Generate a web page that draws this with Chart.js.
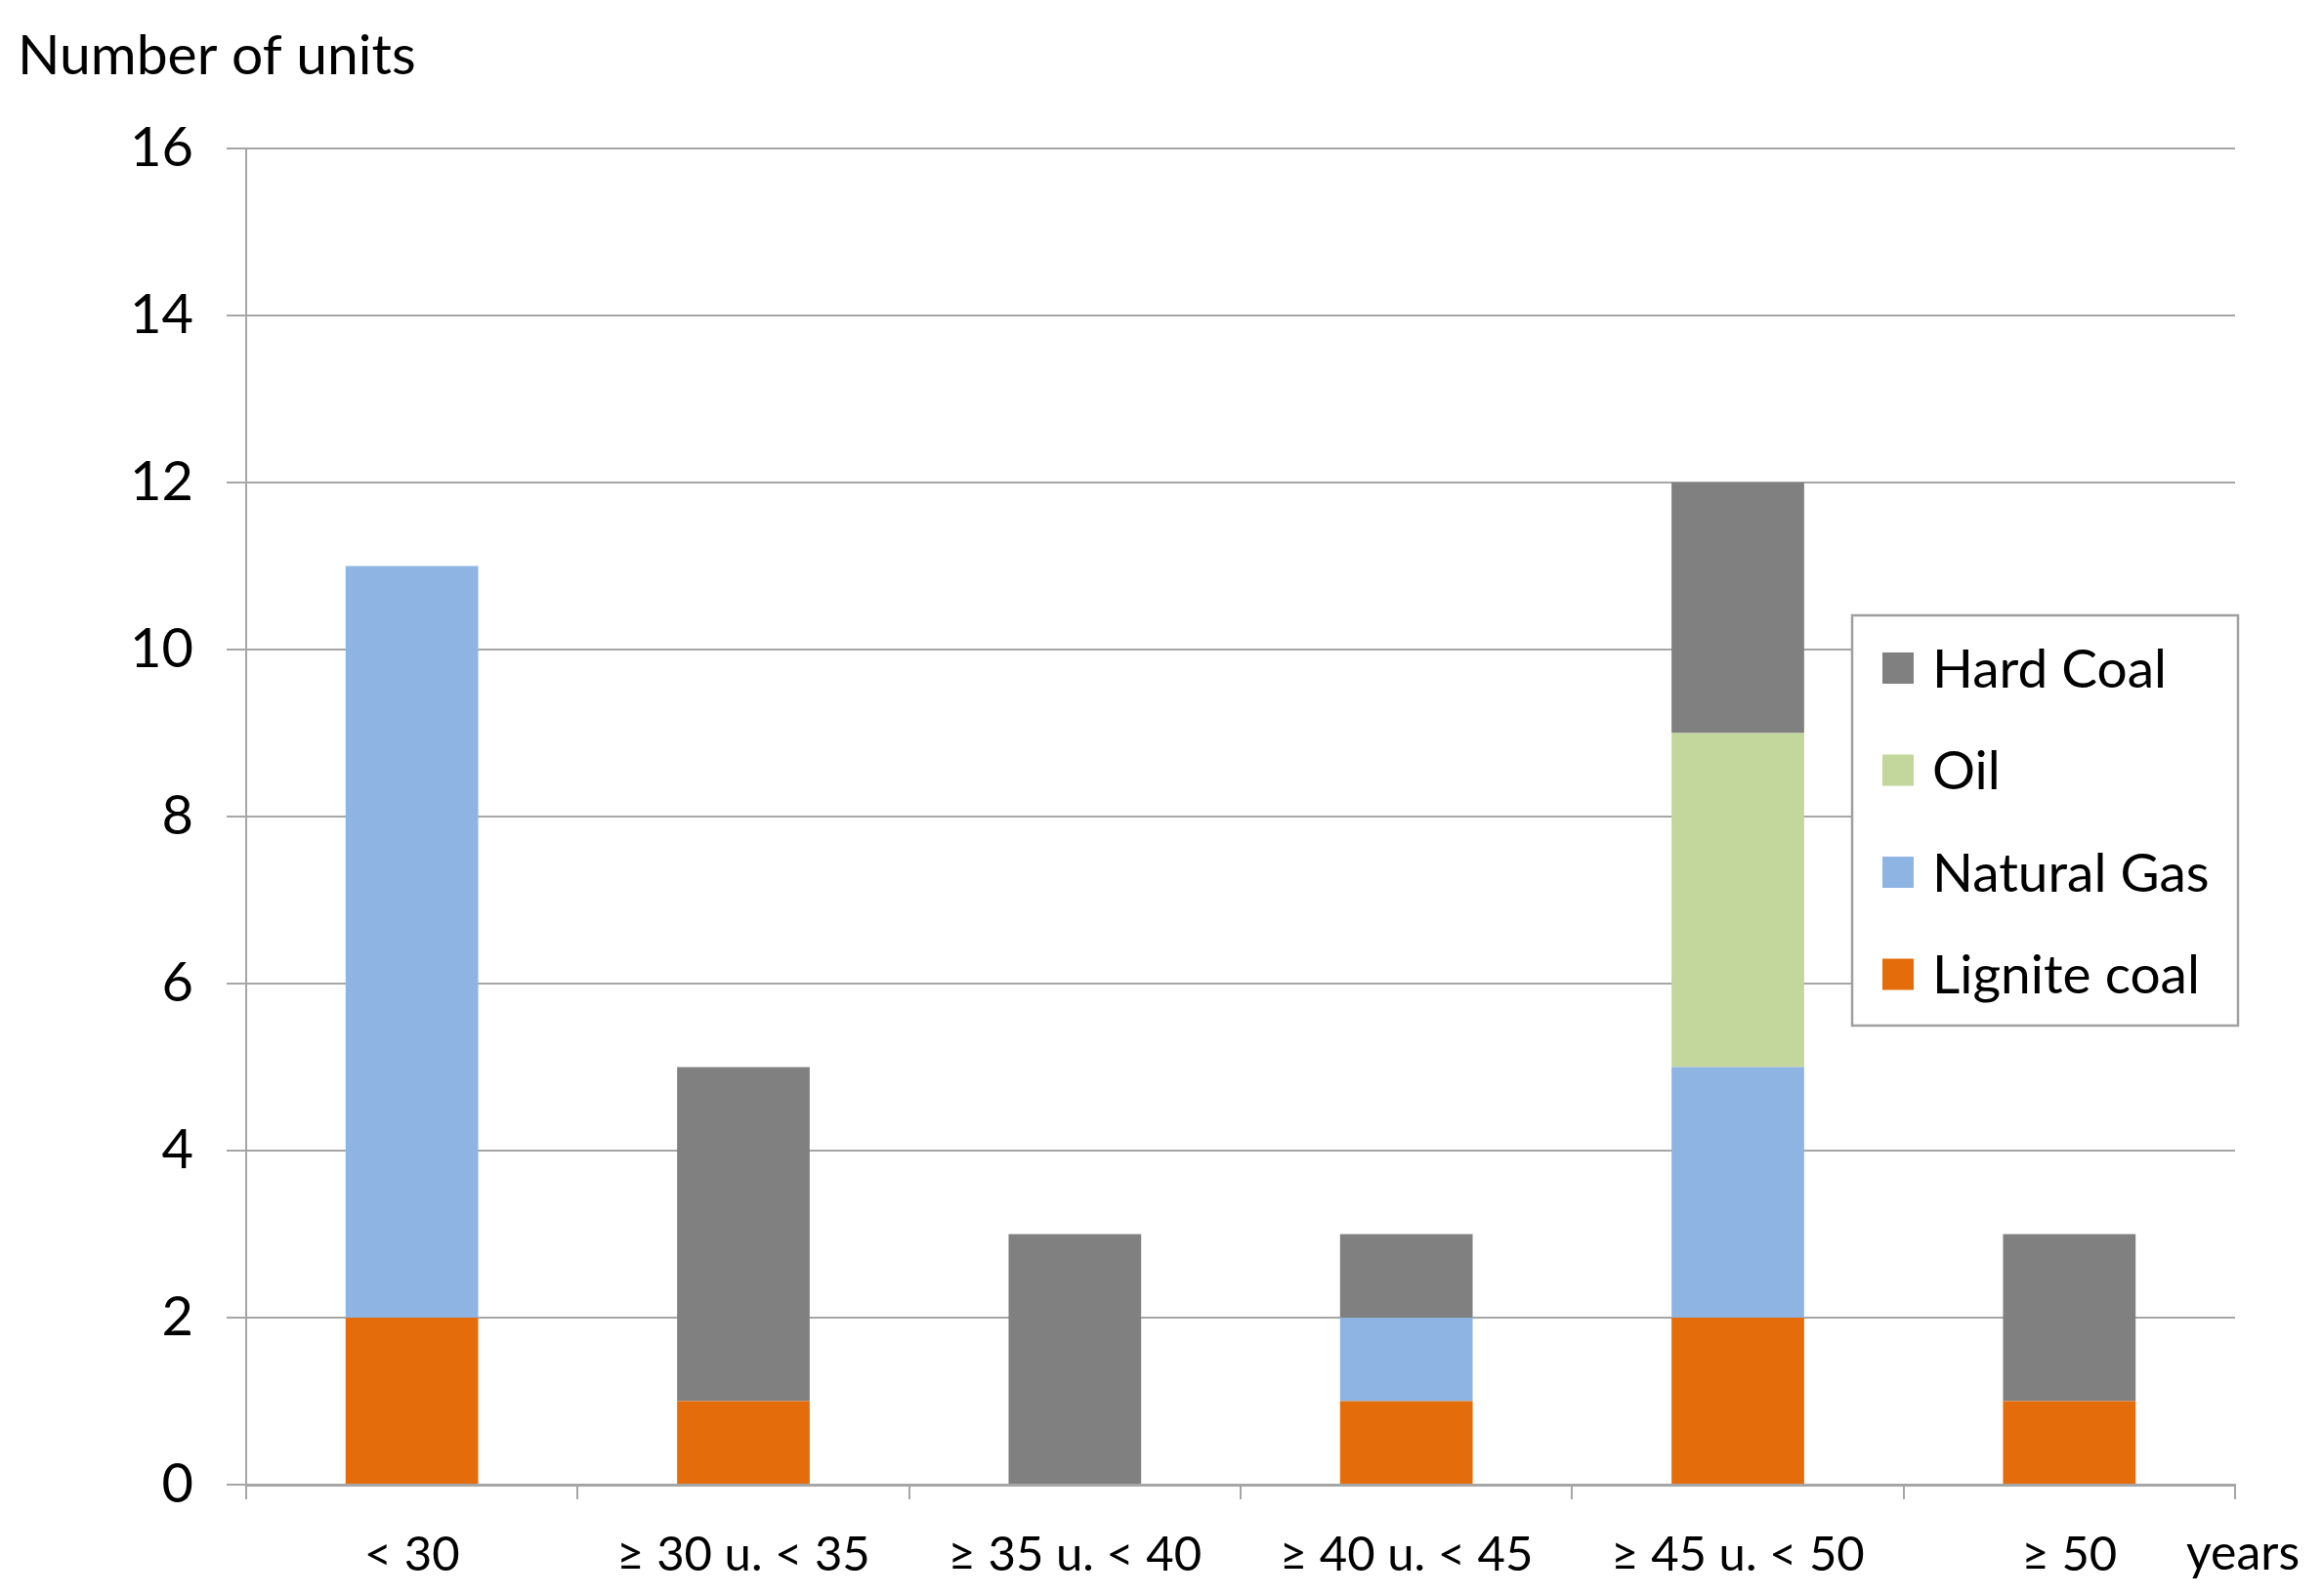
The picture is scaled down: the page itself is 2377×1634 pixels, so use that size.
<!DOCTYPE html>
<html>
<head>
<meta charset="utf-8">
<script src="https://cdn.jsdelivr.net/npm/chart.js@4.4.0/dist/chart.umd.min.js"></script>
<style>
  html, body { margin: 0; padding: 0; background: #ffffff; }
  #wrap { position: relative; width: 2377px; height: 1634px; }
</style>
</head>
<body>
<div id="wrap"><canvas id="c"></canvas></div>
<script>
const categories = ['< 30', '≥ 30 u. < 35', '≥ 35 u. < 40', '≥ 40 u. < 45', '≥ 45 u. < 50', '≥ 50'];
const ligniteCoal = [2, 1, 0, 1, 2, 1];
const naturalGas  = [9, 0, 0, 1, 3, 0];
const oil         = [0, 0, 0, 0, 4, 0];
const hardCoal    = [0, 4, 3, 1, 3, 2];
const yTicks = [0, 2, 4, 6, 8, 10, 12, 14, 16];
const yTitle = 'Number of units';
const xUnit = 'years';

const FONT = 'Lato, "Open Sans", sans-serif';
const GRID = '#a6a6a6';

const overlay = {
  id: 'overlay',
  afterDraw(chart) {
    const ctx = chart.ctx;
    const ca = chart.chartArea;
    ctx.save();
    ctx.fillStyle = '#000';
    ctx.font = '57px ' + FONT;
    ctx.textBaseline = 'middle';
    ctx.textAlign = 'left';
    ctx.fillText(yTitle, 18, 58);
    // unit label at end of x axis
    ctx.font = '50px ' + FONT;
    ctx.fillText(xUnit, ca.right - 50, 1591);

    // legend (reverse order of stacking)
    const boxL = ca.right - 392, boxT = 630, boxW = 395, boxH = 420;
    ctx.fillStyle = '#fff';
    ctx.fillRect(boxL, boxT, boxW, boxH);
    ctx.strokeStyle = '#a0a0a0';
    ctx.lineWidth = 2.5;
    ctx.strokeRect(boxL, boxT, boxW, boxH);
    const ds = chart.data.datasets.slice().reverse();
    ctx.font = '55px ' + FONT;
    ds.forEach((d, i) => {
      const cy = boxT + 54 + i * 104.5;
      ctx.fillStyle = d.backgroundColor;
      ctx.fillRect(boxL + 31, cy - 16, 32, 32);
      ctx.fillStyle = '#000';
      ctx.fillText(d.label, boxL + 82, cy + 2);
    });
    ctx.restore();
  }
};

new Chart(document.getElementById('c'), {
  type: 'bar',
  data: {
    labels: categories,
    datasets: [
      { label: 'Lignite coal', data: ligniteCoal, backgroundColor: '#e46c0a' },
      { label: 'Natural Gas', data: naturalGas, backgroundColor: '#8eb4e3' },
      { label: 'Oil', data: oil, backgroundColor: '#c3d69b' },
      { label: 'Hard Coal', data: hardCoal, backgroundColor: '#808080' }
    ]
  },
  options: {
    responsive: true,
    maintainAspectRatio: false,
    devicePixelRatio: 1,
    animation: false,
    layout: { padding: { top: 152, right: 89, left: 0, bottom: 0 } },
    datasets: { bar: { categoryPercentage: 1.0, barPercentage: 0.4, borderWidth: 0 } },
    plugins: { legend: { display: false }, tooltip: { enabled: false } },
    scales: {
      x: {
        stacked: true,
        grid: { drawOnChartArea: false, drawTicks: true, tickLength: 15, color: GRID, lineWidth: 2, offset: true },
        border: { display: true, color: GRID, width: 3 },
        ticks: { color: '#000', font: { family: FONT, size: 49 }, padding: 28, maxRotation: 0, autoSkip: false },
        afterFit(scale) { scale.height = 114; }
      },
      y: {
        stacked: true,
        min: 0, max: 16,
        afterBuildTicks(scale) { scale.ticks = yTicks.map(v => ({ value: v })); },
        grid: { color: GRID, lineWidth: 2, tickLength: 20, drawTicks: true },
        border: { display: true, color: GRID, width: 2 },
        ticks: { color: '#000', font: { family: FONT, size: 56 }, padding: 34 },
        afterFit(scale) { scale.width = 252; }
      }
    }
  },
  plugins: [overlay]
});
</script>
</body>
</html>
